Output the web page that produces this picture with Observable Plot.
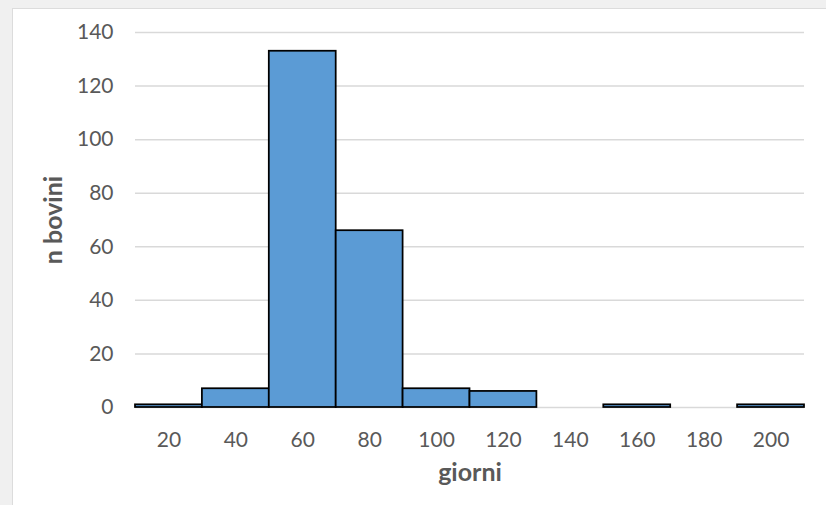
<!DOCTYPE html>
<html>
<head>
<meta charset="utf-8">
<script src="https://cdn.jsdelivr.net/npm/d3@7"></script>
<script src="https://cdn.jsdelivr.net/npm/@observablehq/plot@0.6"></script>
<style>
  html, body { margin: 0; padding: 0; background: #f0f0f0; width: 826px; height: 505px; overflow: hidden; }
  #panel { position: absolute; left: 12px; top: 8px; width: 814px; height: 497px; background: #fff;
           border-left: 1px solid #dcdcdc; border-top: 1px solid #dcdcdc; box-sizing: border-box; }
  svg { font-family: Lato, "DejaVu Sans", sans-serif; display: block; }
</style>
</head>
<body>
<div id="panel"></div>
<script>
const categories = [20, 40, 60, 80, 100, 120, 140, 160, 180, 200];
const counts = [1, 7, 133, 66, 7, 6, 0, 1, 0, 1];
const yTicks = [0, 20, 40, 60, 80, 100, 120, 140];
const xLabel = "giorni";
const yLabel = "n bovini";

const data = categories.map((c, i) => ({cat: String(c), n: counts[i]}));

const chart = Plot.plot({
  width: 813,
  height: 496,
  marginLeft: 122,
  marginRight: 22,
  marginTop: 23,
  marginBottom: 98,
  style: {background: "transparent", fontFamily: "Lato, sans-serif"},
  x: {type: "band", domain: categories.map(String), padding: 0, round: false, label: null},
  y: {domain: [0, 140], label: null},
  marks: [
    Plot.ruleY(yTicks, {stroke: "#d9d9d9", strokeWidth: 1.5}),
    Plot.barY(data.filter(d => d.n > 0), {x: "cat", y: "n", fill: "#5b9bd5", stroke: "#000", strokeWidth: 1.75}),
    Plot.axisY(yTicks, {tickSize: 0, tickPadding: 22, fontSize: 21, fill: "#595959", label: null}),
    Plot.axisX({tickSize: 0, tickPadding: 25, fontSize: 21, fill: "#595959", label: null}),
    Plot.text([xLabel], {frameAnchor: "bottom", lineAnchor: "middle", dy: 65, fontSize: 25, fontWeight: "bold", fill: "#595959"}),
    Plot.text([yLabel], {frameAnchor: "left", lineAnchor: "middle", textAnchor: "middle", dx: -82, rotate: -90, fontSize: 25, fontWeight: "bold", fill: "#595959"})
  ]
});
document.getElementById("panel").appendChild(chart);
</script>
</body>
</html>
